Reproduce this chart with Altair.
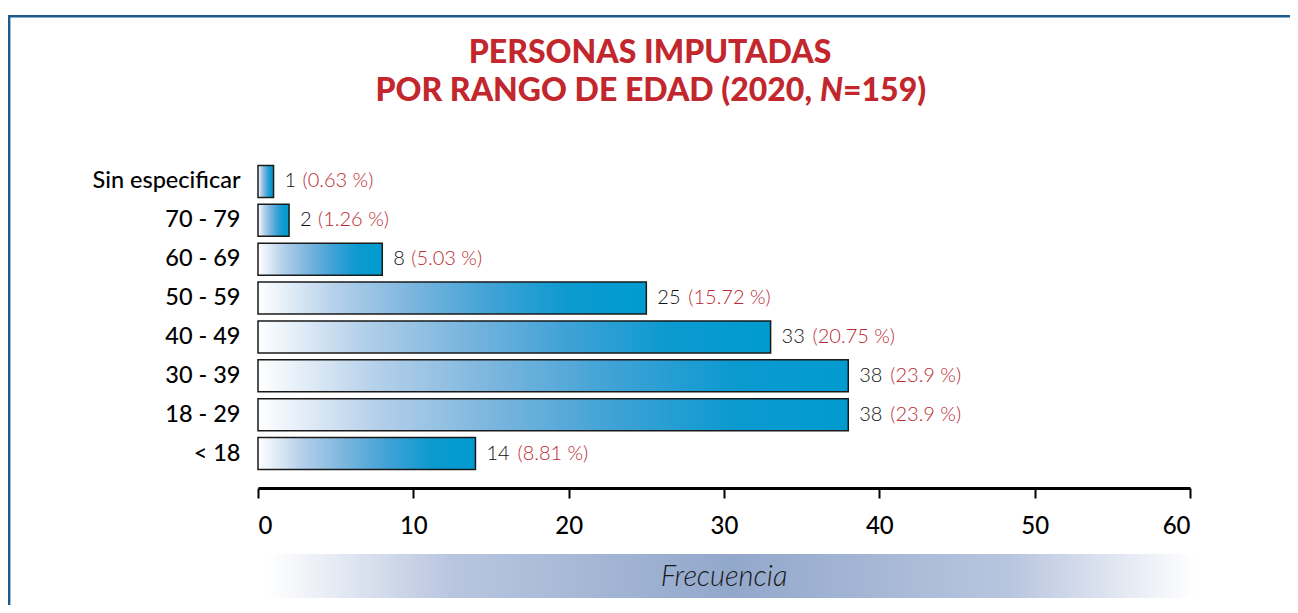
import altair as alt
import pandas as pd

categories = ["Sin especificar", "70 - 79", "60 - 69", "50 - 59", "40 - 49", "30 - 39", "18 - 29", "< 18"]
counts = [1, 2, 8, 25, 33, 38, 38, 14]
pcts = ["0.63", "1.26", "5.03", "15.72", "20.75", "23.9", "23.9", "8.81"]
x_ticks = [0, 10, 20, 30, 40, 50, 60]

title_line1 = "PERSONAS IMPUTADAS"
title_line2a = "POR RANGO DE EDAD (2020,"
title_line2b = "N"
title_line2c = "=159)"
axis_title = "Frecuencia"

df = pd.DataFrame({"cat": categories, "count": counts, "pct": pcts})
df["ptxt"] = [f"({p} %)" for p in pcts]
df["cnt"] = [str(c) for c in counts]

FONT = "Lato"
RED = "#c1272d"
W, H = 932, 311

x_enc = alt.X("count:Q", scale=alt.Scale(domain=[0, 60], nice=False, zero=True),
              axis=alt.Axis(values=x_ticks, title=None, grid=False, offset=15,
                            domainColor="black", domainWidth=3, tickColor="black",
                            tickWidth=2, tickSize=10, labelFontSize=24, labelFont=FONT,
                            labelFontWeight=500, labelColor="black", labelPadding=16))
y_enc = alt.Y("cat:N", sort=categories,
              scale=alt.Scale(paddingInner=0.18, paddingOuter=0.09),
              axis=alt.Axis(title=None, ticks=False, domain=False, labelFontSize=23.5,
                            labelFont=FONT, labelFontWeight=500, labelColor="black",
                            labelPadding=18))
y_plain = alt.Y("cat:N", sort=categories)

base = alt.Chart(df)

bar_grad = alt.Gradient(
    gradient="linear", x1=0, x2=1, y1=0, y2=0,
    stops=[alt.GradientStop(color="#ffffff", offset=0),
           alt.GradientStop(color="#b5d0ea", offset=0.2),
           alt.GradientStop(color="#7ab5de", offset=0.4),
           alt.GradientStop(color="#40a2d6", offset=0.6),
           alt.GradientStop(color="#0c9ad0", offset=0.8),
           alt.GradientStop(color="#009bd0", offset=1)])

bars = base.mark_bar(fill=bar_grad, stroke="#1a1a1a", strokeWidth=1.5, cornerRadius=0).encode(
    x=x_enc, y=y_enc)

lbl = dict(align="left", baseline="middle", fontSize=20, font=FONT, fontWeight=300)
cnt_txt = base.mark_text(dx=11, color="#111111", **lbl).encode(
    x="count:Q", y=y_plain, text="cnt:N")
pct1 = base.transform_filter("datum.count < 10").mark_text(dx=29, color="#bb2a33", **lbl).encode(
    x="count:Q", y=y_plain, text="ptxt:N")
pct2 = base.transform_filter("datum.count >= 10").mark_text(dx=42, color="#bb2a33", **lbl).encode(
    x="count:Q", y=y_plain, text="ptxt:N")

one = alt.Data(values=[{}])

band_grad = alt.Gradient(
    gradient="linear", x1=0, x2=1, y1=0, y2=0,
    stops=[alt.GradientStop(color="#ffffff", offset=0),
           alt.GradientStop(color="#b8c5df", offset=0.2),
           alt.GradientStop(color="#92a8cb", offset=0.5),
           alt.GradientStop(color="#b8c5df", offset=0.8),
           alt.GradientStop(color="#ffffff", offset=1)])
band = alt.Chart(one).mark_rect(fill=band_grad).encode(
    x=alt.value(10), x2=alt.value(937), y=alt.value(392), y2=alt.value(436))
band_txt = alt.Chart(one).mark_text(text=axis_title, fontSize=29, font=FONT, fontStyle="italic",
                                    fontWeight=300, color="#1a1a1a", align="center",
                                    baseline="middle").encode(
    x=alt.value(466), y=alt.value(415))

FR = "#1d5b8e"
frame_top = alt.Chart(one).mark_rule(color=FR, strokeWidth=2.6).encode(
    x=alt.value(-250), x2=alt.value(1040), y=alt.value(-145.7))
frame_left = alt.Chart(one).mark_rule(color=FR, strokeWidth=2.4).encode(
    x=alt.value(-248.8), y=alt.value(-147), y2=alt.value(460))

tstyle = dict(fontSize=32, font=FONT, fontWeight=900, color=RED, baseline="middle")
t1 = alt.Chart(one).mark_text(text=title_line1, align="center", **tstyle).encode(
    x=alt.value(392), y=alt.value(-109))
t2a = alt.Chart(one).mark_text(text=title_line2a, align="right", **tstyle).encode(
    x=alt.value(554), y=alt.value(-71))
t2b = alt.Chart(one).mark_text(text=title_line2b, align="left", fontStyle="italic", **tstyle).encode(
    x=alt.value(562), y=alt.value(-71))
t2c = alt.Chart(one).mark_text(text=title_line2c, align="left", **tstyle).encode(
    x=alt.value(585), y=alt.value(-71))

chart = alt.layer(frame_top, frame_left, band, band_txt, bars, cnt_txt, pct1, pct2,
                  t1, t2a, t2b, t2c).properties(
    width=W, height=H, autosize="none", background="white",
    padding={"left": 250, "top": 154, "right": 100, "bottom": 132},
).configure_view(stroke=None, strokeWidth=0)

chart.save("out.html", embed_options={"renderer": "svg", "actions": False})
